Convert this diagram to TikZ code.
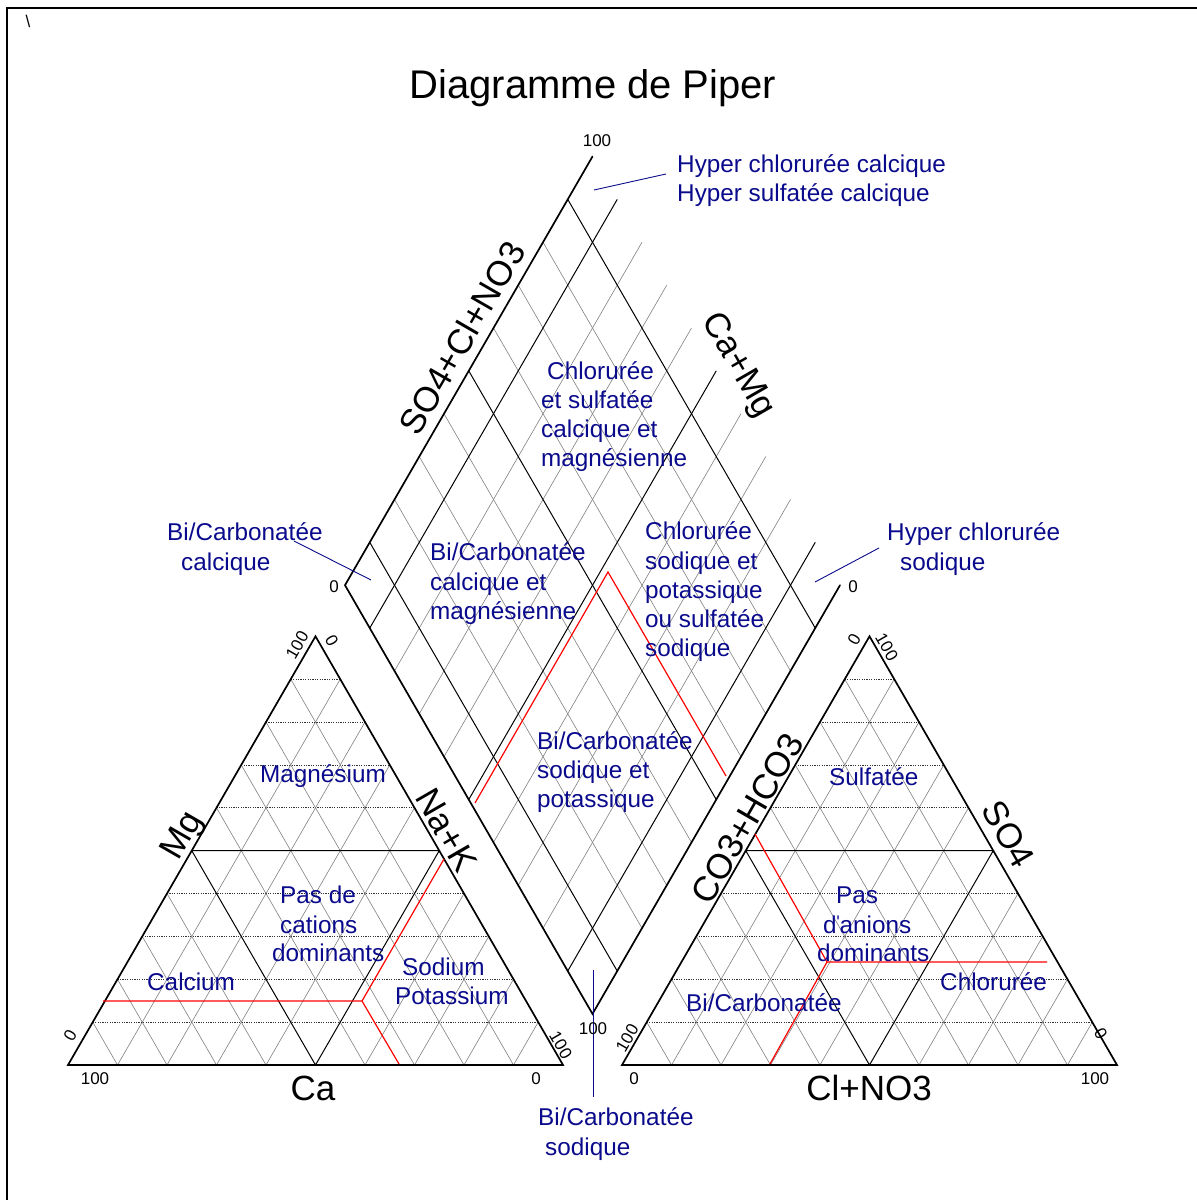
\documentclass[tikz,border=0pt]{standalone}
\usepackage{fontspec}
\setmainfont{Liberation Sans}
\usetikzlibrary{calc}
\definecolor{labblue}{RGB}{10,10,140}
\begin{document}
\begin{tikzpicture}[x=1pt,y=-1pt,
  edge/.style={line width=1.7pt, line join=miter, line cap=round},
  darkgrid/.style={line width=1.0pt},
  graygrid/.style={line width=0.6pt, draw=black!50},
  dotgrid/.style={line width=0.8pt, draw=black!80, dash pattern=on 1.2pt off 1.2pt},
  redline/.style={line width=1.2pt, draw=red},
  leader/.style={line width=0.9pt, draw=labblue},
  frameline/.style={line width=2pt},
  lbl/.style={text=labblue, font=\fontsize{24.3}{29}\selectfont, anchor=west, inner sep=0pt, text height=17pt, text depth=0pt},
  axl/.style={font=\fontsize{35}{40}\selectfont, inner sep=0pt, text height=25pt, text depth=0pt},
  num/.style={font=\fontsize{17}{20}\selectfont, inner sep=0pt, text height=12pt, text depth=0pt},
  ttl/.style={font=\fontsize{40}{46}\selectfont, inner sep=0pt, text height=28.6pt, text depth=0pt}
]
\useasboundingbox (0,0) rectangle (1197,1200);
% frame
\coordinate (f1) at (7,1200);
\coordinate (f2) at (7,8);
\coordinate (f3) at (1197,8);
\draw[frameline] (f1) -- (f2) -- (f3);
\node[num] (bs) at (28,21) {\textbackslash};

% title
\node[ttl] (title) at (593,84) {Diagramme de Piper};

% coordinates
\coordinate (A1) at (68,1065);
\coordinate (B1) at (563,1065);
\coordinate (C1) at (315.5,636.3);
\coordinate (A2) at (622,1065);
\coordinate (B2) at (1117,1065);
\coordinate (C2) at (869.5,636.3);
\coordinate (L) at (345,585.2);
\coordinate (T) at (592.5,156.5);
\coordinate (R) at (840,585.2);
\coordinate (B) at (592.5,1013.9);

% triangle grids
\foreach \P/\Q/\S in {A1/B1/C1, A2/B2/C2}{
  \foreach \k [evaluate=\k as \kk using 1-\k] in {0.1,0.2,0.3,0.4,0.6,0.7,0.8,0.9}{
    \draw[graygrid] ($(\P)!\k!(\Q)$) -- ($(\Q)!\kk!(\S)$);
    \draw[graygrid] ($(\P)!\k!(\Q)$) -- ($(\P)!\k!(\S)$);
    \draw[dotgrid] ($(\P)!\k!(\S)$) -- ($(\Q)!\k!(\S)$);
  }
  \draw[darkgrid] ($(\P)!0.5!(\S)$) -- ($(\Q)!0.5!(\S)$) -- ($(\P)!0.5!(\Q)$) -- cycle;
  \draw[edge] (\P) -- (\Q) -- (\S) -- cycle;
}

% diamond grid
\foreach \t in {0.2,0.3,0.4,0.6,0.7,0.8}{
  \draw[graygrid] ($(L)!\t!(T)$) -- ($(B)!\t!(R)$);
  \draw[graygrid] ($(L)!\t!(B)$) -- ($(T)!\t!(R)$);
}
\foreach \t in {0.1,0.5,0.9}{
  \draw[darkgrid] ($(L)!\t!(T)$) -- ($(B)!\t!(R)$);
  \draw[darkgrid] ($(L)!\t!(B)$) -- ($(T)!\t!(R)$);
}
\draw[edge] (T) -- (L) -- (B) -- (R);

% red classification lines
\coordinate (rl1) at (103,1001);
\coordinate (rl0) at (362,1001);
\coordinate (rl2) at (444,859);
\coordinate (rl3) at (399,1064);
\draw[redline] (rl1) -- (rl0) -- (rl2);
\draw[redline] (rl0) -- (rl3);
\coordinate (rd1) at (475,803);
\coordinate (rd0) at (608,572);
\coordinate (rd2) at (726,776);
\draw[redline] (rd1) -- (rd0) -- (rd2);
\coordinate (rr1) at (755,834);
\coordinate (rr0) at (827,962);
\coordinate (rr2) at (1047,962);
\coordinate (rr3) at (770,1064);
\draw[redline] (rr1) -- (rr0) -- (rr2);
\draw[redline] (rr0) -- (rr3);

% leader lines
\coordinate (la1) at (594,190);
\coordinate (lb1) at (666,174);
\coordinate (la2) at (294,541);
\coordinate (lb2) at (371,580);
\coordinate (la3) at (815,582);
\coordinate (lb3) at (879,548);
\coordinate (la4) at (593,970);
\coordinate (lb4) at (593,1097);
\draw[leader] (la1) -- (lb1);
\draw[leader] (la2) -- (lb2);
\draw[leader] (la3) -- (lb3);
\draw[leader] (la4) -- (lb4);

% axis labels
\node[axl, rotate=60] (axSO) at (462,338) {SO4+Cl+NO3};
\node[axl, rotate=-60] (axCM) at (741,364) {Ca+Mg};
\node[axl, rotate=60] (axMg) at (180,834) {Mg};
\node[axl, rotate=-60] (axNK) at (447,830) {Na+K};
\node[axl, rotate=60] (axCO) at (747,818) {CO3+HCO3};
\node[axl, rotate=-60] (axSO4) at (1009,834) {SO4};
\node[axl] (axCa) at (313,1088) {Ca};
\node[axl] (axCl) at (869,1088) {Cl+NO3};

% scale numbers
\node[num] (n1) at (597,140) {100};
\node[num] (n2) at (334,586) {0};
\node[num] (n3) at (853,586) {0};
\node[num] (n4) at (593,1028) {100};
\node[num, rotate=60] (n5) at (297,645) {100};
\node[num, rotate=-60] (n6) at (332,641) {0};
\node[num, rotate=60] (n7) at (70,1035) {0};
\node[num, rotate=-60] (n8) at (561,1045) {100};
\node[num] (n9) at (95,1078) {100};
\node[num] (n10) at (536,1078) {0};
\node[num, rotate=60] (n11) at (627,1038) {100};
\node[num, rotate=60] (n12) at (854,639) {0};
\node[num, rotate=-60] (n13) at (887,647) {100};
\node[num, rotate=-60] (n14) at (1101,1034) {0};
\node[num] (n15) at (634,1078) {0};
\node[num] (n16) at (1095,1078) {100};

% blue labels
\node[lbl] (b1) at (677,164) {Hyper chlorurée calcique};
\node[lbl] (b2) at (677,193) {Hyper sulfatée calcique};
\node[lbl] (b3) at (547,371) {Chlorurée};
\node[lbl] (b4) at (541,400) {et sulfatée};
\node[lbl] (b5) at (541,429) {calcique et};
\node[lbl] (b6) at (541,458) {magnésienne};
\node[lbl] (b7) at (167,532) {Bi/Carbonatée};
\node[lbl] (b8) at (181,562) {calcique};
\node[lbl] (b9) at (430,552) {Bi/Carbonatée};
\node[lbl] (b10) at (430,582) {calcique et};
\node[lbl] (b11) at (430,611) {magnésienne};
\node[lbl] (b12) at (645,531) {Chlorurée};
\node[lbl] (b13) at (645,561) {sodique et};
\node[lbl] (b14) at (645,590) {potassique};
\node[lbl] (b15) at (645,619) {ou sulfatée};
\node[lbl] (b16) at (645,648) {sodique};
\node[lbl] (b17) at (887,532) {Hyper chlorurée};
\node[lbl] (b18) at (900,562) {sodique};
\node[lbl] (b19) at (537,741) {Bi/Carbonatée};
\node[lbl] (b20) at (537,770) {sodique et};
\node[lbl] (b21) at (537,799) {potassique};
\node[lbl] (b22) at (260,774) {Magnésium};
\node[lbl] (b23) at (280,895) {Pas de};
\node[lbl] (b24) at (280,925) {cations};
\node[lbl] (b25) at (272,953) {dominants};
\node[lbl] (b26) at (147,982) {Calcium};
\node[lbl] (b27) at (402,967) {Sodium};
\node[lbl] (b28) at (395,996) {Potassium};
\node[lbl] (b29) at (829,777) {Sulfatée};
\node[lbl] (b30) at (836,895) {Pas};
\node[lbl] (b31) at (823,925) {d\kern-2.6ptˈ\kern-2.6pt anions};
\node[lbl] (b32) at (817,953) {dominants};
\node[lbl] (b33) at (940,982) {Chlorurée};
\node[lbl] (b34) at (686,1003) {Bi/Carbonatée};
\node[lbl] (b35) at (538,1117) {Bi/Carbonatée};
\node[lbl] (b36) at (545,1147) {sodique};
\end{tikzpicture}
\end{document}
